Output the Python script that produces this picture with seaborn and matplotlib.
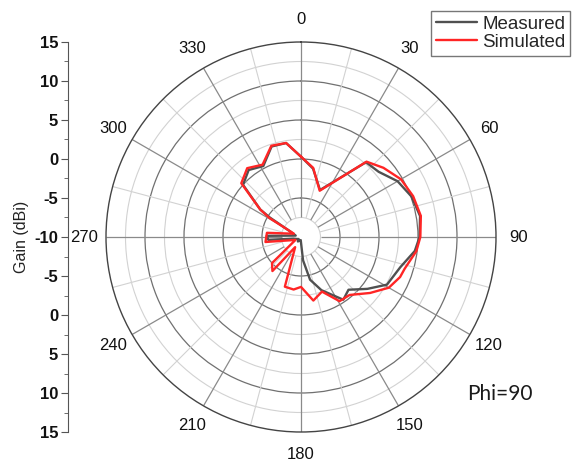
import numpy as np
import pandas as pd
import matplotlib
matplotlib.use("Agg")
import matplotlib.pyplot as plt
import seaborn as sns

# ---- data (angle in degrees, gain in dBi) ----
sim_angle = [0, 10, 22, 41, 50, 60, 70, 80, 90, 97, 107, 112, 120, 129, 140, 149, 159, 169, 180,
             188, 198, 210, 220, 228, 242, 262, 277, 295, 301, 304, 312, 322, 332, 342, 351, 360]
sim_gain = [0.3, -1.0, -3.6, 2.8, 3.8, 4.8, 5.3, 5.6, 5.3, 4.9, 3.9, 3.7, 3.0, 1.4, -0.3, -0.4, -2.5, -1.7, -3.6,
            -3.2, -3.3, -8.5, -4.3, -5.0, -9.2, -5.4, -5.6, -9.0, -5.3, -3.7, 0.3, 1.2, 0.5, 2.3, 2.2, 0.3]

meas_angle = [0, 10, 22, 41, 50, 60, 70, 80, 90, 97, 107, 119, 128, 138, 146, 159, 168, 175, 185,
              200, 215, 230, 245, 258, 265, 272, 285, 297, 302, 304, 312, 322, 332, 342, 351, 360]
meas_gain = [0.3, -1.1, -3.5, 2.7, 3.0, 4.3, 5.1, 5.5, 5.2, 4.7, 3.3, 2.6, 0.8, -0.9, -0.3, -2.7, -4.4, -7.0, -9.6,
             -9.5, -9.3, -9.6, -9.4, -9.0, -5.8, -5.6, -9.3, -8.5, -5.3, -3.7, 0.0, 0.9, 0.3, 2.2, 2.2, 0.3]

theta_ticks = list(range(0, 360, 30))
r_min, r_max = -10, 15
left_ticks = [15, 10, 5, 0, -5, -10, -5, 0, 5, 10, 15]

series_names = ["Measured", "Simulated"]
series_colors = {"Measured": "#505050", "Simulated": "#ff2525"}

df = pd.concat([
    pd.DataFrame({"theta": np.deg2rad(meas_angle), "gain": meas_gain, "series": "Measured"}),
    pd.DataFrame({"theta": np.deg2rad(sim_angle), "gain": sim_gain, "series": "Simulated"}),
], ignore_index=True)

sns.set_style("white")
plt.rcParams["font.family"] = ["Liberation Sans", "DejaVu Sans"]

W, H = 573, 465
fig = plt.figure(figsize=(W / 100, H / 100), dpi=100)
cx, cy, R = 301, 237, 195

ax = fig.add_axes([(cx - R) / W, (H - cy - R) / H, 2 * R / W, 2 * R / H], projection="polar")
ax.set_theta_zero_location("N")
ax.set_theta_direction(-1)
ax.set_ylim(r_min, r_max)

# radial circles
ax.set_yticks([-5, 0, 5, 10])
ax.set_yticks([-7.5, -2.5, 2.5, 7.5, 12.5], minor=True)
ax.set_yticklabels([])
ax.yaxis.grid(True, which="major", color="#707070", lw=0.9)
ax.yaxis.grid(True, which="minor", color="#d2d2d2", lw=0.8)
ax.tick_params(axis="y", which="both", length=0)

# angular lines (stop at inner circle)
ax.xaxis.grid(False)
maj = np.deg2rad(np.arange(0, 360, 30))
mnr = np.deg2rad(np.arange(15, 360, 30))
ax.vlines(mnr, -7.5, r_max, color="#d2d2d2", lw=0.8, zorder=1)
ax.vlines(maj, -7.5, r_max, color="#8a8a8a", lw=0.9, zorder=1)

ax.set_xticks(np.deg2rad(theta_ticks))
ax.set_xticklabels([str(t) for t in theta_ticks], fontsize=12, color="#111111")
ax.set_xticks(mnr, minor=True)
ax.tick_params(axis="x", which="major", pad=9, length=0)
ax.tick_params(axis="x", which="minor", length=4, direction="in", color="#555555")
ax.spines["polar"].set_color("#444444")
ax.spines["polar"].set_linewidth(1.0)

sns.lineplot(data=df, x="theta", y="gain", hue="series", hue_order=series_names,
             palette=series_colors, sort=False, estimator=None, lw=1.7, ax=ax, legend=True, zorder=3)
ax.set_xlabel("")
ax.set_ylabel("")

handles, labels = ax.get_legend_handles_labels()
ax.get_legend().remove()
leg = fig.legend(handles, labels, loc="upper right", bbox_to_anchor=(570 / W, 1 - 11 / H),
                 frameon=True, fancybox=False, fontsize=13.5, handlelength=2.2, handletextpad=0.25,
                 borderpad=0.25, labelspacing=0.05, borderaxespad=0)
leg.get_frame().set_edgecolor("#555555")
leg.get_frame().set_linewidth(1.0)

# left gain axis
ax2 = fig.add_axes([68 / W, (H - cy - R) / H, 0.001, 2 * R / H])
ax2.set_facecolor("none")
ax2.set_ylim(-25, 25)
pos = np.arange(-25, 26, 5)
ax2.set_yticks(pos)
ax2.set_yticklabels([str(v) for v in left_ticks], fontsize=12, fontweight="bold", color="#111111")
ax2.set_yticks(np.arange(-22.5, 25, 5), minor=True)
ax2.set_xticks([])
for s in ["top", "right", "bottom"]:
    ax2.spines[s].set_visible(False)
ax2.spines["left"].set_color("#555555")
ax2.tick_params(axis="y", which="major", direction="out", length=5, color="#555555", pad=2, left=True)
ax2.tick_params(axis="y", which="minor", direction="out", length=3, color="#555555", left=True)
ax2.set_ylabel("Gain (dBi)", fontsize=11.5, labelpad=4, color="#222222")

fig.text(467 / W, 1 - 394 / H, "Phi=90", fontsize=15, va="center", ha="left", color="#1a1a1a",
         family=["Lato", "DejaVu Sans"])

fig.savefig("out.png", dpi=100)
